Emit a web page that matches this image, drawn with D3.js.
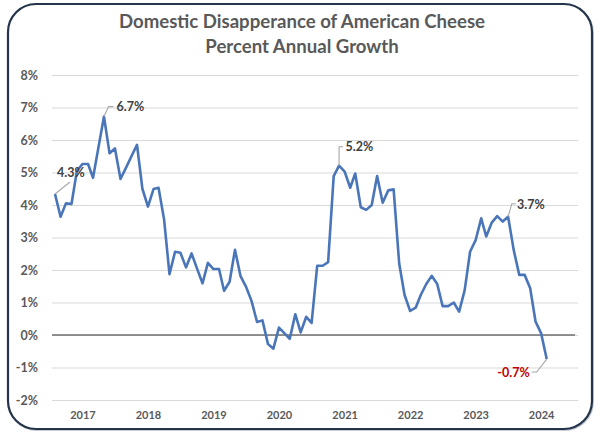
<!DOCTYPE html>
<html><head><meta charset="utf-8">
<script src="https://cdn.jsdelivr.net/npm/d3@7"></script>
<style>
html,body{margin:0;padding:0;background:#fff;}
svg{display:block;font-family:Lato,"Open Sans",sans-serif;}
</style></head>
<body>
<svg id="c" width="600" height="434"></svg>
<script>
// ---- data ----
const titleLines = ["Domestic Disapperance of American Cheese", "Percent Annual Growth"];
const startMonth = "2016-08";
const growth = [
 4.34,3.64,4.05,4.03,5.05,5.26,5.26,4.84,5.80,6.72,
 5.59,5.74,4.80,5.15,5.50,5.85,4.50,3.95,4.49,4.53,
 3.55,1.87,2.56,2.53,2.08,2.51,2.05,1.59,2.22,2.03,
 2.03,1.36,1.64,2.62,1.81,1.49,1.05,0.40,0.45,-0.28,
 -0.42,0.23,0.05,-0.12,0.64,0.08,0.56,0.37,2.13,2.13,
 2.24,4.89,5.21,5.03,4.53,4.97,3.93,3.85,4.00,4.89,
 4.07,4.45,4.48,2.20,1.23,0.74,0.84,1.23,1.57,1.82,
 1.57,0.89,0.89,1.00,0.72,1.38,2.56,2.92,3.59,3.03,
 3.46,3.66,3.49,3.64,2.62,1.85,1.85,1.44,0.41,0.05,
 -0.74
];
const yTicks = [-2,-1,0,1,2,3,4,5,6,7,8];
const yearTicks = [2017,2018,2019,2020,2021,2022,2023,2024];
// annotated points: index into growth, label text
const callouts = [
 {i:0,  text:"4.3%"},
 {i:9,  text:"6.7%"},
 {i:52, text:"5.2%"},
 {i:83, text:"3.7%"},
 {i:90, text:"-0.7%"}
];

// ---- drawing ----
const svg = d3.select("#c");
const parse = d3.timeParse("%Y-%m");
const t0 = parse(startMonth);
const pts = growth.map((v,i)=>({date:d3.timeMonth.offset(t0,i), v}));

const x = d3.scaleTime().domain([pts[0].date, pts[pts.length-1].date]).range([55, 546.7]);
const y = d3.scaleLinear().domain([-2, 8]).range([400, 75]);
const gridL = 52, gridR = 578;

// frame
svg.append("rect").attr("x",9).attr("y",5).attr("width",584).attr("height",425)
  .attr("rx",28).attr("ry",28).attr("fill","none").attr("stroke","#c8ccd2").attr("stroke-width",2);
svg.append("rect").attr("x",8).attr("y",4).attr("width",584).attr("height",425)
  .attr("rx",28).attr("ry",28).attr("fill","#fff").attr("stroke","#24344a").attr("stroke-width",2.2);

// title
svg.append("g").selectAll("text").data(titleLines).join("text")
  .attr("x",302).attr("y",(d,i)=>28+i*25)
  .attr("text-anchor","middle").attr("font-size",18.6).attr("font-weight",700)
  .attr("fill","#595959").text(d=>d);

// y grid + labels
const yAxis = d3.axisLeft(y).tickValues(yTicks).tickSize(-(gridR-gridL)).tickPadding(14)
  .tickFormat(d=>d+"%");
const gy = svg.append("g").attr("transform",`translate(${gridL},0)`).call(yAxis);
gy.select(".domain").remove();
gy.selectAll(".tick line").attr("stroke","#d9d9d9").attr("stroke-width",1);
gy.selectAll(".tick text").attr("font-size",12.5).attr("font-weight",700).attr("fill","#595959")
  .attr("font-family","Lato,'Open Sans',sans-serif");

// zero line
svg.append("line").attr("x1",gridL).attr("x2",575).attr("y1",y(0)).attr("y2",y(0))
  .attr("stroke","#6f6f6f").attr("stroke-width",1.3);

// x axis labels
const xAxis = d3.axisBottom(x).tickValues(yearTicks.map(yr=>new Date(yr,0,1)))
  .tickSize(0).tickPadding(11).tickFormat(d3.timeFormat("%Y"));
const gx = svg.append("g").attr("transform",`translate(0,${y(-2)})`).call(xAxis);
gx.select(".domain").remove();
gx.selectAll(".tick text").attr("font-size",11).attr("font-weight",700).attr("fill","#595959")
  .attr("font-family","Lato,'Open Sans',sans-serif");

// line
const line = d3.line().x(d=>x(d.date)).y(d=>y(d.v));
svg.append("path").datum(pts).attr("d",line).attr("fill","none")
  .attr("stroke","#4a76b9").attr("stroke-width",2.6).attr("stroke-linejoin","round");

// callouts (leader offsets are style)
const style = {
  0:  {leader:[[0,0],[15,-12]], tx:2, ty:-21, anchor:"start"},
  9:  {leader:[[0,0],[4.5,-10],[9.5,-10]], tx:12.5, ty:-10, anchor:"start"},
  52: {leader:[[0,0],[0,-19],[4,-19]], tx:6.5, ty:-19, anchor:"start"},
  83: {leader:[[0,0],[3.7,-13],[7.7,-13]], tx:9, ty:-12, anchor:"start"},
  90: {leader:[[0,0],[-10,13],[-15,13]], tx:-17, ty:14, anchor:"end"}
};
const cg = svg.append("g");
callouts.forEach(c=>{
  const p = pts[c.i], s = style[c.i];
  const px = x(p.date), py = y(p.v);
  cg.append("path").attr("d", d3.line()(s.leader.map(([dx,dy])=>[px+dx,py+dy])))
    .attr("fill","none").attr("stroke","#a6a6a6").attr("stroke-width",1.1);
  cg.append("text").attr("x",px+s.tx).attr("y",py+s.ty).attr("dy","0.35em")
    .attr("text-anchor",s.anchor).attr("font-size",12.5).attr("font-weight",700)
    .attr("fill", p.v<0 ? "#c00000" : "#404040").text(c.text);
});
</script>
</body></html>
